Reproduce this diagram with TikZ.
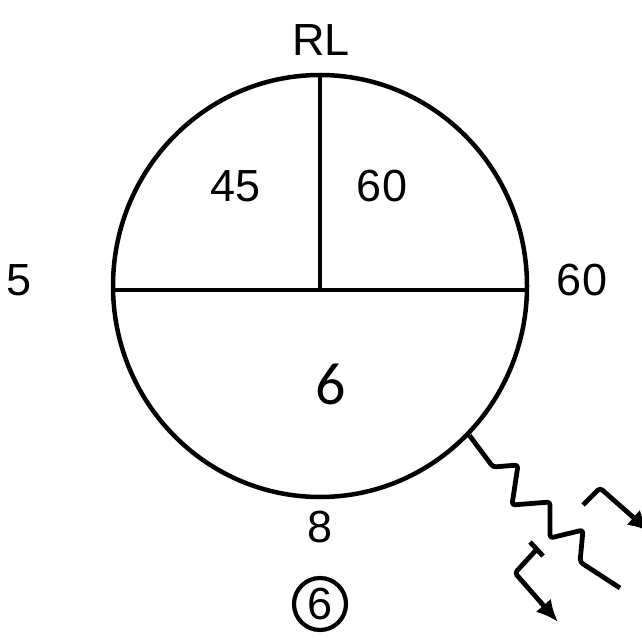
\documentclass[tikz,border=0pt]{standalone}
\usepackage{fontspec}
\setmainfont{Liberation Sans}
\newfontfamily\bigsix{Carlito}
\usetikzlibrary{shapes.geometric,arrows.meta}
\begin{document}
\begin{tikzpicture}[x=1pt,y=-1pt,
  lbl/.style={inner sep=0pt,font=\fontsize{45}{47}\selectfont},
  ln/.style={line width=4.5pt},
  wave/.style={line width=4.8pt,line join=round,rounded corners=3pt},
  tipd/.style={-{Latex[length=22pt,width=20pt]}}]
\useasboundingbox (0,0) rectangle (641,644);
\node[ellipse,draw,line width=4.5pt,minimum width=414pt,minimum height=422pt,inner sep=0pt] (c) at (320,286) {};
\coordinate (hl) at (113,290);
\coordinate (hr) at (527,290);
\coordinate (vm) at (320,290);
\draw[ln] (hl) -- (hr);
\draw[ln] (c.north) -- (vm);
\node[lbl] (rl) at (321,40) {RL};
\node[lbl] (q1) at (236,186) {45};
\node[lbl] (q2) at (382,186) {60};
\node[lbl] (l5) at (19,280) {5};
\node[lbl] (r60) at (582,280) {60};
\node[inner sep=0pt,font=\bigsix\fontsize{60}{62}\selectfont] (bot) at (331,384) {6};
\node[lbl] (b8) at (320,527) {8};
\node[circle,draw,line width=4.2pt,minimum size=52pt,inner sep=0pt,font=\fontsize{45}{47}\selectfont] (c6) at (320,604) {6};
% emitted wave
\coordinate (w1) at (493,467);
\coordinate (w2) at (518,465);
\coordinate (w3) at (512,505);
\coordinate (w4) at (550,502);
\coordinate (w5) at (550,538);
\coordinate (w6) at (583,530);
\coordinate (w7) at (580,562);
\coordinate (w8) at (620,588);
\draw[wave] (c.-45) -- (w1) -- (w2) -- (w3) -- (w4) -- (w5) -- (w6) -- (w7) -- (w8);
% incoming wave upper right
\coordinate (a0) at (583,505);
\coordinate (a1) at (600,488);
\coordinate (a2) at (650,532);
\draw[wave,tipd] (a0) -- (a1) -- (a2);
% lower arrow
\coordinate (t1) at (530,542);
\coordinate (t2) at (543,556);
\coordinate (b0) at (537,549);
\coordinate (b1) at (515,573);
\coordinate (b2) at (558,622);
\draw[wave] (t1) -- (t2);
\draw[wave,tipd] (b0) -- (b1) -- (b2);
\end{tikzpicture}
\end{document}
